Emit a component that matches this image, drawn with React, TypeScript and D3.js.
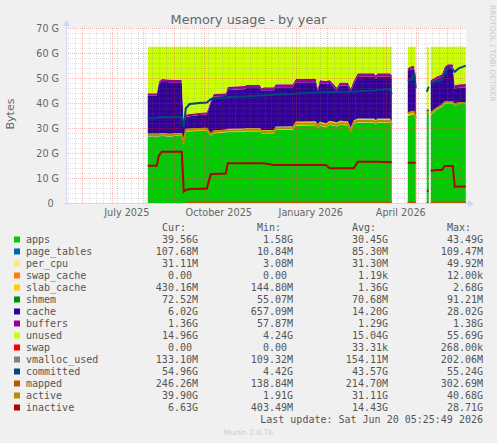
import React from 'react';
import * as d3 from 'd3';

// sample dates (local days) and which contiguous block of data they belong to
const dates = [
  '2025-08-06', '2025-08-15', '2025-08-17', '2025-08-20', '2025-08-28', '2025-09-03', '2025-09-09', '2025-09-11',
  '2025-09-13', '2025-09-17', '2025-09-27', '2025-10-04', '2025-10-08', '2025-10-11', '2025-10-23', '2025-10-25',
  '2025-11-10', '2025-11-13', '2025-11-26', '2025-11-28', '2025-11-30', '2025-12-10', '2025-12-12', '2025-12-29',
  '2026-01-01', '2026-01-21', '2026-01-23', '2026-01-25', '2026-01-31', '2026-02-04', '2026-02-11', '2026-02-14',
  '2026-02-22', '2026-02-25', '2026-02-28', '2026-03-04', '2026-03-20', '2026-03-22', '2026-03-24', '2026-04-05',
  '2026-04-07',
  '2026-04-23', '2026-04-27', '2026-04-29', '2026-05-01',
  '2026-05-12', '2026-05-14',
  '2026-05-16', '2026-05-22', '2026-05-27', '2026-05-30', '2026-06-02', '2026-06-07', '2026-06-09', '2026-06-13',
  '2026-06-20',
];
const segment = [
  0, 0, 0, 0, 0, 0, 0, 0, 0, 0, 0, 0, 0, 0, 0, 0, 0, 0, 0, 0, 0, 0, 0, 0, 0, 0, 0, 0, 0, 0, 0, 0, 0, 0, 0, 0, 0, 0, 0, 0, 0,
  1, 1, 1, 1,
  2, 2,
  3, 3, 3, 3, 3, 3, 3, 3, 3,
];

// stacked series, GiB
const apps = [
  26.6, 26.6, 26.6, 26.8, 26.5, 26.8, 26.8, 23.5, 28.5, 28.6, 28.8, 28.9, 26.7, 27.8, 28.2, 28.3,
  28.4, 28.6, 28.6, 27.7, 27.8, 27.8, 29.2, 29.3, 30.9, 31.0, 29.8, 30.9, 30.2, 31.2, 30.6, 31.2,
  31.0, 28.4, 31.4, 32.1, 32.1, 31.5, 32.1, 32.1, 31.0,
  34.8, 35.2, 35.2, 33.5,
  36.0, 36.0,
  35.2, 37.2, 38.3, 39.6, 39.7, 39.6, 38.8, 39.6, 39.56,
];
const slabCache = [
  1.0, 1.0, 1.0, 1.0, 1.0, 1.0, 1.0, 1.0, 1.0, 1.0, 1.0, 1.0, 1.0, 1.0, 1.0, 1.2,
  1.2, 1.2, 1.2, 1.2, 1.2, 1.2, 1.2, 1.2, 1.5, 1.5, 1.5, 1.5, 1.5, 1.5, 1.5, 1.5,
  1.5, 1.5, 1.5, 1.5, 1.5, 1.5, 1.5, 1.5, 1.5,
  1.2, 1.2, 1.2, 1.2,
  0.5, 0.5,
  0.8, 0.7, 0.7, 0.7, 0.7, 0.7, 0.5, 0.45, 0.43,
];
const cache = [
  15.1, 15.1, 19.7, 20.5, 20.6, 20.3, 20.3, 6.3, 4.8, 4.9, 5.2, 5.3, 12.1, 13.6, 13.4, 15.5,
  15.7, 16.0, 16.0, 15.6, 15.9, 15.9, 15.7, 15.6, 15.7, 15.6, 13.2, 15.4, 15.7, 15.1, 12.7, 14.1,
  14.3, 14.6, 14.7, 16.8, 16.8, 16.6, 16.8, 16.8, 17.3,
  16.8, 16.9, 16.9, 15.6,
  0.8, 0.8,
  11.8, 11.4, 11.3, 12.7, 13.6, 13.7, 6.3, 5.8, 6.02,
];
const buffers = [
  1.0, 1.0, 1.0, 1.1, 1.1, 1.0, 1.0, 1.0, 0.9, 0.9, 0.9, 0.9, 1.0, 1.1, 1.1, 1.3,
  1.3, 1.2, 1.2, 1.2, 1.2, 1.2, 1.2, 1.2, 1.3, 1.3, 1.2, 1.2, 1.2, 1.2, 1.2, 1.2,
  1.2, 1.2, 1.2, 1.3, 1.3, 1.2, 1.3, 1.3, 1.2,
  1.0, 1.3, 1.3, 1.0,
  0.1, 0.1,
  1.2, 1.1, 1.0, 1.3, 1.3, 1.3, 1.3, 1.4, 1.36,
];
const unused = [
  18.6, 18.6, 14.0, 12.9, 13.1, 13.2, 13.2, 30.5, 27.1, 26.9, 26.4, 26.2, 21.5, 18.8, 18.6, 16.0,
  15.7, 15.3, 15.3, 16.6, 16.2, 16.2, 15.0, 15.0, 12.9, 12.9, 16.6, 13.3, 13.7, 13.3, 16.3, 14.3,
  14.3, 16.6, 13.5, 10.6, 10.6, 11.5, 10.6, 10.6, 11.3,
  8.5, 7.7, 7.7, 11.0,
  24.9, 24.9,
  13.3, 11.9, 11.0, 8.0, 7.0, 7.0, 15.4, 15.1, 14.96,
];
// tiny stacked series, one value per block
const pageTables = [0.085, 0.1, 0.02, 0.105];
const perCpu = [0.03, 0.03, 0.01, 0.03];
const swapCache = [0, 0, 0, 0];
const shmem = [0.07, 0.07, 0.06, 0.07];
const swap = [0, 0, 0, 0];

// line series, GiB
const committed = [
  33.9, 33.9, 34.2, 34.4, 34.4, 34.5, 34.5, 30.5, 37.9, 39.6, 40.0, 40.2, 41.5, 41.9, 42.0, 42.4,
  42.6, 42.7, 43.0, 43.0, 43.1, 43.3, 43.4, 43.6, 43.8, 44.2, 44.2, 44.3, 44.3, 44.4, 44.4, 44.5,
  44.5, 44.5, 44.6, 44.7, 45.0, 45.0, 45.2, 45.6, 43.5,
  48.9, 49.5, 52.0, 46.0,
  44.5, 46.5,
  47.9, 48.8, 49.2, 51.9, 54.3, 53.5, 52.5, 53.9, 54.96,
];
const active = [
  27.2, 27.2, 27.2, 27.4, 27.1, 27.4, 27.4, 24.0, 29.2, 29.3, 29.5, 29.6, 27.3, 28.5, 28.9, 29.0,
  29.1, 29.3, 29.3, 28.3, 28.4, 28.5, 29.9, 30.0, 31.7, 31.7, 30.5, 31.6, 30.9, 31.9, 31.3, 31.9,
  31.7, 29.0, 32.1, 32.8, 32.8, 32.2, 32.8, 32.8, 31.3,
  35.8, 36.5, 36.5, 34.0,
  36.5, 36.5,
  36.0, 37.9, 39.0, 40.3, 40.4, 40.3, 39.3, 40.0, 39.90,
];
const inactive = [
  14.9, 14.9, 18.8, 20.5, 20.5, 20.5, 20.5, 4.5, 5.2, 5.6, 5.7, 5.7, 11.5, 11.6, 11.8, 15.9,
  15.9, 15.9, 15.9, 15.9, 15.9, 15.2, 15.2, 15.2, 15.2, 15.2, 15.2, 15.2, 15.2, 13.9, 13.9, 13.9,
  13.9, 13.9, 13.9, 16.5, 16.5, 16.5, 16.5, 16.3, 16.3,
  16.1, 16.1, 16.1, 16.1,
  4.9, 4.9,
  12.9, 13.2, 13.2, 14.8, 14.8, 14.8, 6.5, 6.6, 6.63,
];
const mapped = [
  null, null, null, null, null, null, null, null, 0.20, 0.20, 0.21, 0.21, 0.21, 0.22, 0.22, 0.22,
  0.22, 0.22, 0.22, 0.22, 0.22, 0.22, 0.22, 0.22, 0.23, 0.23, 0.23, 0.23, 0.23, 0.23, 0.23, 0.23,
  0.23, 0.23, 0.23, 0.24, 0.24, 0.24, 0.24, 0.24, 0.24,
  0.23, 0.23, 0.23, 0.23,
  0.15, 0.15,
  0.20, 0.21, 0.22, 0.23, 0.24, 0.24, 0.24, 0.25, 0.246,
];
const vmallocUsed = [
  null, null, null, null, null, null, null, null, 0.15, 0.15, 0.15, 0.15, 0.15, 0.15, 0.15, 0.15,
  0.15, 0.15, 0.15, 0.15, 0.15, 0.15, 0.15, 0.15, 0.15, 0.15, 0.15, 0.15, 0.15, 0.15, 0.15, 0.15,
  0.15, 0.15, 0.15, 0.15, 0.15, 0.15, 0.15, 0.15, 0.15,
  0.14, 0.14, 0.14, 0.14,
  0.11, 0.11,
  0.13, 0.13, 0.13, 0.13, 0.13, 0.13, 0.13, 0.13, 0.133,
];

// legend
const legendNames = ['apps', 'page_tables', 'per_cpu', 'swap_cache', 'slab_cache', 'shmem', 'cache', 'buffers',
  'unused', 'swap', 'vmalloc_used', 'committed', 'mapped', 'active', 'inactive'];
const legendColors = ['#00CC00', '#0066B3', '#FFE680', '#FF8000', '#FFCC00', '#008F00', '#330099', '#990099',
  '#CCFF00', '#FF0000', '#808080', '#00487D', '#B35A00', '#B38F00', '#B30000'];
const curText = ['39.56G', '107.68M', '31.11M', '0.00', '430.16M', '72.52M', '6.02G', '1.36G', '14.96G', '0.00',
  '133.10M', '54.96G', '246.26M', '39.90G', '6.63G'];
const minText = ['1.58G', '10.84M', '3.08M', '0.00', '144.80M', '55.07M', '657.09M', '57.87M', '4.24G', '0.00',
  '109.32M', '4.42G', '138.84M', '1.91G', '403.49M'];
const avgText = ['30.45G', '85.30M', '31.30M', '1.19k', '1.36G', '70.68M', '14.20G', '1.29G', '15.04G', '33.31k',
  '154.11M', '43.57G', '214.70M', '31.11G', '14.43G'];
const maxText = ['43.49G', '109.47M', '49.92M', '12.00k', '2.68G', '91.21M', '28.02G', '1.38G', '55.69G', '268.00k',
  '202.06M', '55.24G', '302.69M', '40.68G', '28.71G'];

const yTicks = [0, 10, 20, 30, 40, 50, 60, 70];
const xLabels = ['2025-07-16', '2025-10-16', '2026-01-16', '2026-04-16'];
const xLabelText = ['July 2025', 'October 2025', 'January 2026', 'April 2026'];

const parse = d3.timeParse('%Y-%m-%d');
const endTime = new Date(2026, 5, 20, 5, 25, 49);
const startTime = new Date(2025, 4, 16, 5, 25, 49);

const color = (name: string) => legendColors[legendNames.indexOf(name)];

export default function App() {
  const x = d3.scaleTime().domain([startTime, endTime]).range([66, 466]);
  const y = d3.scaleLinear().domain([0, 70]).range([203, 28]);

  const rows = dates.map((d, i) => {
    const s = segment[i];
    return {
      date: parse(d) as Date, seg: s,
      apps: apps[i], page_tables: pageTables[s], per_cpu: perCpu[s], swap_cache: swapCache[s],
      slab_cache: slabCache[i], shmem: shmem[s], cache: cache[i], buffers: buffers[i],
      unused: unused[i], swap: swap[s],
    };
  });
  const keys = ['apps', 'page_tables', 'per_cpu', 'swap_cache', 'slab_cache', 'shmem', 'cache', 'buffers', 'unused', 'swap'];
  const layers = d3.stack<any>().keys(keys)(rows as any);
  const area = d3.area<any>()
    .x(p => x(p.data.date))
    .y0(p => y(p[0]))
    .y1(p => y(p[1]));
  const segIds = [0, 1, 2, 3];

  const lineSeries = [
    { name: 'vmalloc_used', values: vmallocUsed },
    { name: 'committed', values: committed },
    { name: 'mapped', values: mapped },
    { name: 'active', values: active },
    { name: 'inactive', values: inactive },
  ];
  const line = d3.line<any>()
    .defined(p => p.v != null)
    .x(p => x(p.date))
    .y(p => y(p.v));

  const monthLines = d3.timeMonth.range(startTime, endTime);
  const weekLines = d3.timeSunday.range(startTime, endTime)
    .filter(d => !monthLines.some(m => Math.abs(x(m) - x(d)) < 1.5));
  const minorY = d3.range(0, 71, 2).filter(v => v % 10 !== 0);

  const sans = "'DejaVu Sans', sans-serif";
  const mono = "'DejaVu Sans Mono', monospace";
  const cols = [198, 293, 388, 483];
  const colTexts = [curText, minText, avgText, maxText];

  return (
    <div style={{ position: 'absolute', left: 0, top: 0 }}>
      <svg width={497} height={443} style={{ display: 'block' }}>
        <rect width={497} height={443} fill="#F0F0F0" />
        <rect x={66} y={28} width={400} height={175} fill="#FFFFFF" />

        <text x={248.5} y={24} textAnchor="middle" fontFamily={sans} fontSize={12.8} fill="#666">Memory usage - by year</text>
        <text transform="translate(13.5,114) rotate(-90)" textAnchor="middle" fontFamily={sans} fontSize={11} fill="#666">Bytes</text>
        <text transform="translate(489.5,5) rotate(90)" fontFamily={sans} fontSize={7.5} fill="#CCCCCC">RRDTOOL / TOBI OETIKER</text>

        {layers.map(layer => (
          <g key={layer.key}>
            {segIds.map(s => {
              const pts = layer.filter((p: any) => p.data.seg === s);
              return <path key={s} d={area(pts) || ''} fill={color(layer.key)} />;
            })}
          </g>
        ))}

        <g shapeRendering="crispEdges">
          {weekLines.map((d, i) => (
            <line key={'w' + i} x1={Math.round(x(d)) + 0.5} x2={Math.round(x(d)) + 0.5} y1={28} y2={203}
              stroke="rgba(120,120,120,0.22)" strokeDasharray="1,1" />
          ))}
          {minorY.map(v => (
            <line key={'h' + v} x1={66} x2={466} y1={Math.round(y(v)) + 0.5} y2={Math.round(y(v)) + 0.5}
              stroke="rgba(120,120,120,0.22)" strokeDasharray="1,1" />
          ))}
          {monthLines.map((d, i) => (
            <line key={'m' + i} x1={Math.round(x(d)) + 0.5} x2={Math.round(x(d)) + 0.5} y1={28} y2={203}
              stroke="rgba(210,60,60,0.35)" strokeDasharray="1,1" />
          ))}
          {yTicks.filter(v => v > 0).map(v => (
            <line key={'M' + v} x1={66} x2={466} y1={Math.round(y(v)) + 0.5} y2={Math.round(y(v)) + 0.5}
              stroke="rgba(210,60,60,0.35)" strokeDasharray="1,1" />
          ))}
        </g>

        {lineSeries.map(ls => (
          <g key={ls.name}>
            {segIds.map(s => {
              const pts = dates.map((d, i) => ({ date: parse(d) as Date, v: ls.values[i], seg: segment[i] }))
                .filter(p => p.seg === s);
              return <path key={s} d={line(pts) || ''} fill="none" stroke={color(ls.name)} strokeWidth={2} />;
            })}
          </g>
        ))}

        {/* axes */}
        <line x1={66.5} x2={66.5} y1={203} y2={25} stroke="#CFD6F8" />
        <path d="M66.5,20 L63,26 L70,26 Z" fill="#CFD6F8" />
        <line x1={63} x2={469} y1={203.5} y2={203.5} stroke="#CFD6F8" />
        <path d="M474,203.5 L468,200 L468,207 Z" fill="#CFD6F8" />

        {yTicks.map(v => (
          <text key={v} x={v === 0 ? 53.5 : 59} y={y(v) + 4} textAnchor="end" fontFamily={sans} fontSize={9.6} fill="#666">
            {v === 0 ? '0' : v + ' G'}
          </text>
        ))}
        {xLabels.map((d, i) => (
          <text key={d} x={x(parse(d) as Date)} y={216} textAnchor="middle" fontFamily={sans} fontSize={9.7} fill="#666">
            {xLabelText[i]}
          </text>
        ))}

        {/* legend */}
        <g fontFamily={mono} fontSize={10} fill="#555">
          {['Cur:', 'Min:', 'Avg:', 'Max:'].map((h, j) => (
            <text key={h} x={cols[j] - 12} y={231} textAnchor="end">{h}</text>
          ))}
          {legendNames.map((name, i) => {
            const by = 243 + i * 12;
            return (
              <g key={name}>
                <rect x={14} y={by - 6.5} width={6} height={6} fill={legendColors[i]} />
                <text x={26} y={by}>{name}</text>
                {colTexts.map((col, j) => {
                  const t = col[i];
                  const rx = /\d$/.test(t) ? cols[j] - 6 : cols[j];
                  return <text key={j} x={rx} y={by} textAnchor="end">{t}</text>;
                })}
              </g>
            );
          })}
          <text x={483} y={423} textAnchor="end">Last update: Sat Jun 20 05:25:49 2026</text>
        </g>
        <text x={248.5} y={434.5} textAnchor="middle" fontFamily={sans} fontSize={7.5} fill="#CCCCCC">Munin 2.0.76</text>
      </svg>
    </div>
  );
}
